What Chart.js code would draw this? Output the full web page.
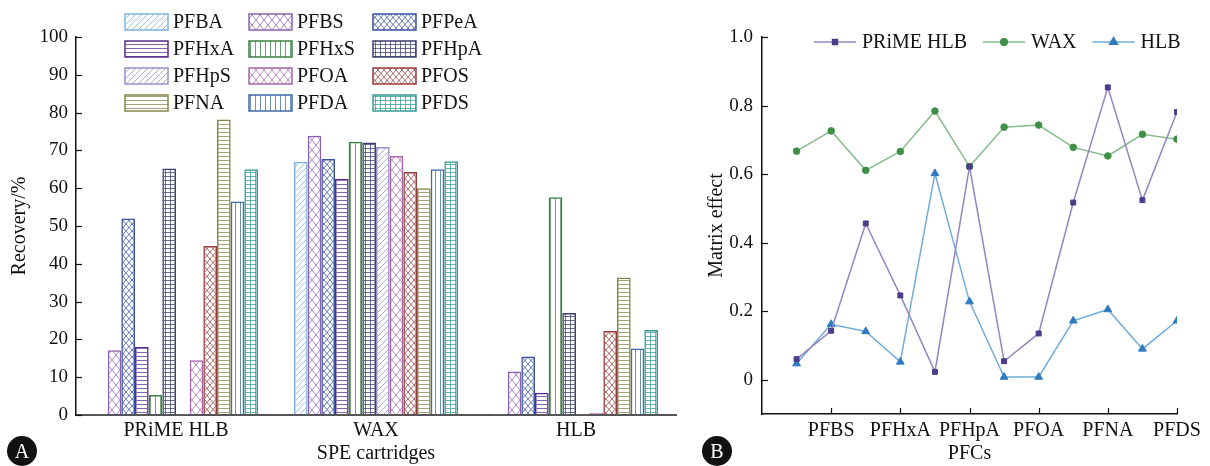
<!DOCTYPE html>
<html>
<head>
<meta charset="utf-8">
<script src="https://cdn.jsdelivr.net/npm/chart.js@4/dist/chart.umd.min.js"></script>
<style>
  body { margin: 0; background: #fff; width: 1210px; height: 466px; overflow: hidden; position: relative; font-family: "Liberation Serif", serif; }
  #wrapA { position: absolute; left: 0; top: 0; width: 690px; height: 466px; }
  #wrapB { position: absolute; left: 690px; top: 0; width: 520px; height: 466px; }
  .badge { position: absolute; width: 30px; height: 30px; border-radius: 50%; background: #111; color: #fff; font-size: 20px; line-height: 31px; text-align: center; }
</style>
</head>
<body>
<div id="wrapA"><canvas id="chartA"></canvas></div>
<div id="wrapB"><canvas id="chartB"></canvas></div>
<div class="badge" style="left:7px;top:436px">A</div>
<div class="badge" style="left:702px;top:436px">B</div>
<script>
// panel A: recovery by SPE cartridge
const cartridges = ["PRiME HLB", "WAX", "HLB"];
const compounds = ["PFBA", "PFBS", "PFPeA", "PFHxA", "PFHxS", "PFHpA", "PFHpS", "PFOA", "PFOS", "PFNA", "PFDA", "PFDS"];
const recovery_prime = [0.3, 17.1, 52.0, 18.0, 5.3, 65.2, 0.3, 14.5, 44.7, 78.2, 56.5, 65.0];
const recovery_wax = [67.0, 73.9, 67.7, 62.5, 72.3, 72.1, 70.9, 68.5, 64.3, 60.0, 65.0, 67.1];
const recovery_hlb = [0.2, 11.5, 15.5, 5.9, 57.6, 27.0, 0, 0.6, 22.2, 36.4, 17.6, 22.5];

// panel B: matrix effect per compound
const me_prime = [0.06, 0.143, 0.456, 0.246, 0.023, 0.622, 0.054, 0.135, 0.517, 0.853, 0.524, 0.781];
const me_wax = [0.667, 0.726, 0.611, 0.666, 0.784, 0.622, 0.737, 0.743, 0.678, 0.653, 0.716, 0.702];
const me_hlb = [0.047, 0.162, 0.141, 0.052, 0.602, 0.228, 0.008, 0.008, 0.172, 0.205, 0.09, 0.172];

const SERIF = "'Liberation Serif', 'Times New Roman', serif";
const INK = "#111";

// hatch style and colour for each compound
const hatchKinds = ["diag", "cross", "crossS", "hline", "vline", "grid", "diag", "cross", "crossS", "hline", "vline", "grid"];
const hatchColors = ["#7fb2da", "#8a62b0", "#3a52a0", "#5a2d8c", "#3a8040", "#3c3f70",
                     "#9c8ccc", "#a566a8", "#963c3c", "#85854a", "#3f6aa5", "#3a9a96"];

const patCtx = document.createElement("canvas").getContext("2d");
function hatch(kind, color) {
  const tile = document.createElement("canvas");
  const sz = { diag: [6, 6], cross: [8, 10], crossS: [6, 7], hline: [4, 4], vline: [5, 4], grid: [5, 4] }[kind];
  tile.width = sz[0]; tile.height = sz[1];
  const g = tile.getContext("2d");
  const w = sz[0], h = sz[1];
  g.strokeStyle = color;
  g.globalAlpha = 0.75;
  g.lineWidth = 1;
  g.beginPath();
  if (kind == "diag") {
    g.moveTo(0, h); g.lineTo(w, 0);
    g.moveTo(-1, 1); g.lineTo(1, -1);
    g.moveTo(w - 1, h + 1); g.lineTo(w + 1, h - 1);
  } else if (kind == "cross" || kind == "crossS") {
    g.moveTo(0, 0); g.lineTo(w, h);
    g.moveTo(w, 0); g.lineTo(0, h);
  } else if (kind == "hline") {
    g.moveTo(0, 0.5); g.lineTo(w, 0.5);
  } else if (kind == "vline") {
    g.moveTo(0.5, 0); g.lineTo(0.5, h);
  } else {
    g.moveTo(0, 0.5); g.lineTo(w, 0.5);
    g.moveTo(0.5, 0); g.lineTo(0.5, h);
  }
  g.stroke();
  return patCtx.createPattern(tile, "repeat");
}

const recoveryRows = [recovery_prime, recovery_wax, recovery_hlb];
const barSets = compounds.map((name, i) => ({
  label: name,
  data: recoveryRows.map(r => r[i]),
  backgroundColor: hatch(hatchKinds[i], hatchColors[i]),
  borderColor: hatchColors[i],
  borderWidth: 1.5,
  minBarLength: 1,
  barPercentage: 1.0,
  categoryPercentage: 0.82
}));

// ticks pointing into the plot
const inwardTicks = {
  id: "inwardTicks",
  afterDraw(chart, args, opts) {
    const ctx = chart.ctx, area = chart.chartArea;
    ctx.save();
    ctx.strokeStyle = INK;
    ctx.lineWidth = 1.2;
    const ys = chart.scales.y;
    ys.ticks.forEach(t => {
      if (t.value < 0) return;
      const py = Math.round(ys.getPixelForValue(t.value)) + 0.5;
      ctx.beginPath(); ctx.moveTo(area.left, py); ctx.lineTo(area.left + 6, py); ctx.stroke();
    });
    if (opts.xTicks) {
      const xs = chart.scales.x;
      xs.ticks.forEach(t => {
        if (t.value <= 0) return;
        const px = Math.round(xs.getPixelForValue(t.value)) + 0.5;
        ctx.beginPath(); ctx.moveTo(px, area.bottom); ctx.lineTo(px, area.bottom - 6); ctx.stroke();
      });
    }
    ctx.restore();
  }
};

// 3 x 4 legend of hatch swatches over the top of panel A
const hatchLegend = {
  id: "hatchLegend",
  afterDraw(chart) {
    const ctx = chart.ctx;
    ctx.save();
    ctx.font = "20px " + SERIF;
    ctx.textBaseline = "middle";
    chart.data.datasets.forEach((ds, i) => {
      const col = i % 3, row = Math.floor(i / 3);
      const x = 125 + col * 124, y = 14 + row * 27;
      ctx.fillStyle = "#fff";
      ctx.fillRect(x, y, 43, 16);
      ctx.fillStyle = ds.backgroundColor;
      ctx.fillRect(x, y, 43, 16);
      ctx.strokeStyle = ds.borderColor;
      ctx.lineWidth = 1.5;
      ctx.strokeRect(x, y, 43, 16);
      ctx.fillStyle = INK;
      ctx.fillText(ds.label, x + 48, y + 9);
    });
    ctx.restore();
  }
};

// line + marker legend for panel B
const lineLegend = {
  id: "lineLegend",
  afterDraw(chart) {
    const ctx = chart.ctx;
    ctx.save();
    ctx.font = "20px " + SERIF;
    ctx.textBaseline = "middle";
    let x = 124;
    const y = 42;
    chart.data.datasets.forEach(ds => {
      ctx.strokeStyle = ds.borderColor;
      ctx.lineWidth = 1.5;
      ctx.beginPath(); ctx.moveTo(x, y); ctx.lineTo(x + 42, y); ctx.stroke();
      ctx.fillStyle = ds.pointBackgroundColor;
      ctx.strokeStyle = ds.pointBorderColor;
      Chart.helpers.drawPoint(ctx, { pointStyle: ds.pointStyle, radius: ds.pointRadius, rotation: 0, borderWidth: 1 }, x + 21, y);
      ctx.fillStyle = INK;
      ctx.fillText(ds.label, x + 48, y + 1);
      x += 48 + ctx.measureText(ds.label).width + 16;
    });
    ctx.restore();
  }
};

new Chart(document.getElementById("chartA"), {
  type: "bar",
  data: { labels: cartridges, datasets: barSets },
  plugins: [inwardTicks, hatchLegend],
  options: {
    responsive: true,
    maintainAspectRatio: false,
    animation: false,
    layout: { padding: { top: 37, right: 14, left: 0, bottom: 0 } },
    plugins: {
      legend: { display: false },
      tooltip: { enabled: false },
      inwardTicks: { xTicks: false }
    },
    scales: {
      x: {
        grid: { display: true, drawOnChartArea: false, drawTicks: false },
        border: { display: true, color: "#555", width: 2 },
        ticks: { color: INK, font: { family: SERIF, size: 20 }, padding: 4 },
        title: { display: true, text: "SPE cartridges", color: INK, font: { family: SERIF, size: 20 }, padding: { top: 0, bottom: 0 } },
        afterFit(s) { s.height = 51; }
      },
      y: {
        min: 0,
        max: 100,
        grid: { display: true, drawOnChartArea: false, drawTicks: false },
        border: { display: true, color: INK, width: 1.5 },
        ticks: { stepSize: 10, color: INK, font: { family: SERIF, size: 19 }, padding: 8 },
        title: { display: true, text: "Recovery/%", color: INK, font: { family: SERIF, size: 20 }, padding: { top: 8, bottom: 0 } },
        afterFit(s) { s.width = 76; }
      }
    }
  }
});

const xPos = compounds.map((c, i) => i + 1);
new Chart(document.getElementById("chartB"), {
  type: "line",
  data: {
    datasets: [
      { label: "PRiME HLB", data: me_prime.map((v, i) => ({ x: xPos[i], y: v })), borderColor: "#9585c0",
        pointStyle: "rect", pointRadius: 3.5, pointBackgroundColor: "#4b3c8c", pointBorderColor: "#4b3c8c" },
      { label: "WAX", data: me_wax.map((v, i) => ({ x: xPos[i], y: v })), borderColor: "#85bb8a",
        pointStyle: "circle", pointRadius: 3.3, pointBackgroundColor: "#3e8f48", pointBorderColor: "#3e8f48" },
      { label: "HLB", data: me_hlb.map((v, i) => ({ x: xPos[i], y: v })), borderColor: "#72acd8",
        pointStyle: "triangle", pointRadius: 4.5, pointBackgroundColor: "#2f7bbf", pointBorderColor: "#2f7bbf" }
    ]
  },
  plugins: [inwardTicks, lineLegend],
  options: {
    responsive: true,
    maintainAspectRatio: false,
    animation: false,
    layout: { padding: { top: 37, right: 33, left: 0, bottom: 0 } },
    elements: { line: { borderWidth: 1.5, tension: 0 }, point: { borderWidth: 1 } },
    plugins: {
      legend: { display: false },
      tooltip: { enabled: false },
      inwardTicks: { xTicks: true }
    },
    scales: {
      x: {
        type: "linear",
        min: 0,
        max: 12,
        grid: { display: true, drawOnChartArea: false, drawTicks: false },
        border: { display: true, color: INK, width: 1.5 },
        ticks: { stepSize: 2, autoSkip: false, maxRotation: 0, color: INK, font: { family: SERIF, size: 20 }, padding: 5,
                 callback: v => (v > 0 ? compounds[v - 1] : "") },
        title: { display: true, text: "PFCs", color: INK, font: { family: SERIF, size: 20 }, padding: { top: 0, bottom: 0 } },
        afterFit(s) { s.height = 52; }
      },
      y: {
        min: -0.1,
        max: 1.0,
        grid: { display: true, drawOnChartArea: false, drawTicks: false },
        border: { display: true, color: INK, width: 1.5 },
        ticks: { stepSize: 0.2, color: INK, font: { family: SERIF, size: 19 }, padding: 9,
                 callback: v => (v < 0 ? "" : v == 0 ? "0" : v.toFixed(1)) },
        title: { display: true, text: "Matrix effect", color: INK, font: { family: SERIF, size: 20 }, padding: { top: 15, bottom: 0 } },
        afterFit(s) { s.width = 72; }
      }
    }
  }
});
</script>
</body>
</html>
